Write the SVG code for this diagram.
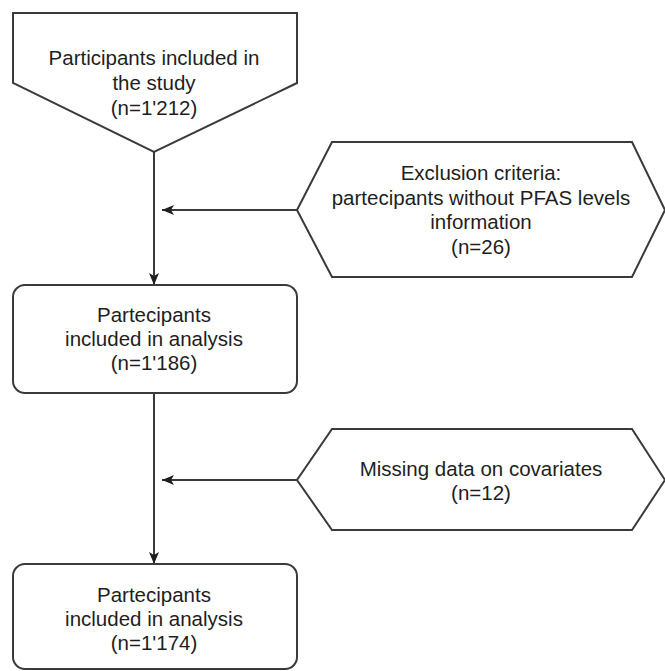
<svg xmlns="http://www.w3.org/2000/svg" width="665" height="671" viewBox="0 0 665 671">
  <style>
    .shape { fill: #ffffff; stroke: #3a3a3a; stroke-width: 2; stroke-linejoin: miter; }
    .conn { fill: none; stroke: #3a3a3a; stroke-width: 2; }
    .lbl { font-family: "Liberation Sans", Arial, sans-serif; font-size: 20.5px; fill: #1e1e1e; text-anchor: middle; }
  </style>
  <defs>
    <marker id="arrow" markerUnits="userSpaceOnUse" viewBox="0 0 12 10" refX="12" refY="5" markerWidth="12" markerHeight="10" orient="auto">
      <path d="M0,0 L12,5 L0,10 L3,5 Z" fill="#1e1e1e"/>
    </marker>
  </defs>
  <rect width="665" height="671" fill="#ffffff"/>

  <g id="connectors">
    <line class="conn" x1="154" y1="152" x2="154" y2="285" marker-end="url(#arrow)"/>
    <line class="conn" x1="297" y1="210" x2="162" y2="210" marker-end="url(#arrow)"/>
    <line class="conn" x1="154" y1="393" x2="154" y2="564" marker-end="url(#arrow)"/>
    <line class="conn" x1="297" y1="480" x2="162" y2="480" marker-end="url(#arrow)"/>
  </g>

  <g id="start">
    <polygon class="shape" points="13,13 297,13 297,83 154,152 13,83"/>
    <text class="lbl" x="154" y="65">Participants included in</text>
    <text class="lbl" x="154" y="90">the study</text>
    <text class="lbl" x="154" y="115">(n=1'212)</text>
  </g>

  <g id="exclusion1">
    <polygon class="shape" points="332,142 632,142 665,210 632,277 332,277 297,210"/>
    <text class="lbl" x="481" y="180">Exclusion criteria:</text>
    <text class="lbl" x="481" y="205">partecipants without PFAS levels</text>
    <text class="lbl" x="481" y="229">information</text>
    <text class="lbl" x="481" y="254">(n=26)</text>
  </g>

  <g id="analysis1">
    <rect class="shape" x="13" y="285" width="284" height="108" rx="12" ry="12"/>
    <text class="lbl" x="154" y="322">Partecipants</text>
    <text class="lbl" x="154" y="346">included in analysis</text>
    <text class="lbl" x="154" y="370">(n=1'186)</text>
  </g>

  <g id="exclusion2">
    <polygon class="shape" points="332,429 632,429 665,480 632,530 332,530 297,480"/>
    <text class="lbl" x="481" y="476">Missing data on covariates</text>
    <text class="lbl" x="481" y="500">(n=12)</text>
  </g>

  <g id="analysis2">
    <rect class="shape" x="13" y="564" width="284" height="105" rx="12" ry="12"/>
    <text class="lbl" x="154" y="602">Partecipants</text>
    <text class="lbl" x="154" y="626">included in analysis</text>
    <text class="lbl" x="154" y="650">(n=1'174)</text>
  </g>
</svg>
